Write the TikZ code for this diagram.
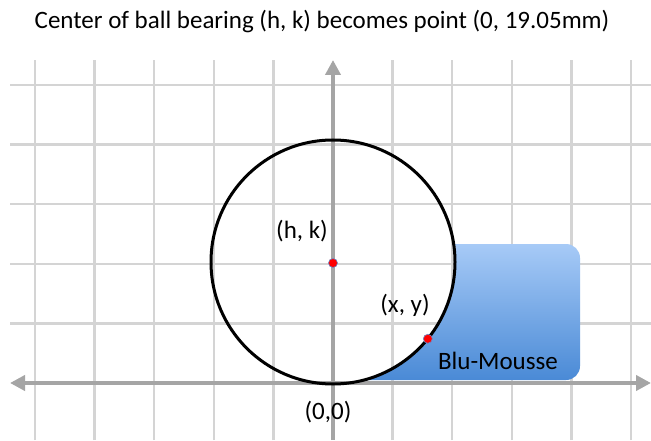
\documentclass[tikz,border=0pt]{standalone}
\usepackage{fontspec}
\setmainfont{Carlito}
\usetikzlibrary{arrows.meta,calc}
\definecolor{gridc}{HTML}{D4D4D4}
\definecolor{axisc}{HTML}{A5A5A5}
\definecolor{bluetop}{HTML}{A8CBF7}
\definecolor{bluebot}{HTML}{4A8AD6}
\definecolor{dotedge}{HTML}{6F86C4}
\tikzset{axtip/.tip={Triangle[width=15pt,length=15pt]}}
\begin{document}
\begin{tikzpicture}[x=1pt,y=1pt,
  gridline/.style={draw=gridc,line width=2.5pt},
  axisline/.style={draw=axisc,line width=4pt},
  lbl/.style={font=\fontsize{25}{29}\selectfont,inner sep=0pt},
  reddot/.style={circle,fill=red,draw=dotedge,line width=0.6pt,inner sep=0pt,minimum size=9pt}]
\useasboundingbox (0,0) rectangle (651,440);
\fill[white] (0,0) rectangle (651,440);
% grid
\foreach \k in {1,...,5} \draw[gridline] (10,57+\k*59.6) -- (651,57+\k*59.6);
\foreach \i in {-5,-4,-3,-2,-1,1,2,3,4,5} \draw[gridline] (333+\i*59.6,0) -- (333+\i*59.6,380);
% Blu-Mousse block
\shade[top color=bluetop,bottom color=bluebot]
  (452.5,196) [rounded corners=14pt] -- (580,196) -- (580,60) [sharp corners] -- (361,60)
  arc[start angle=-77.3,end angle=8.9,radius=122] -- cycle;
% axes
\coordinate (ybot) at (333,0);
\coordinate (ytop) at (333,380);
\coordinate (xl) at (10,57);
\coordinate (xr) at (651,57);
\draw[axisline,-axtip] (ybot) -- (ytop);
\draw[axisline,axtip-axtip] (xl) -- (xr);
% ball
\draw[line width=3pt] (333,178) circle[radius=122];
\node[reddot] (hk) at (333,177) {};
\node[reddot] (xy) at ($(333,178)+(-39:122)$) {};
% labels
\node[lbl] (title) at (322,418) {Center of ball bearing (h, k) becomes point (0, 19.05mm)};
\node[lbl] (hklbl) at (302,209) {(h, k)};
\node[lbl] (xylbl) at (405,135) {(x, y)};
\node[lbl] (blu) at (498,79) {Blu-Mousse};
\node[lbl] (origin) at (328,28) {(0,0)};
\end{tikzpicture}
\end{document}
